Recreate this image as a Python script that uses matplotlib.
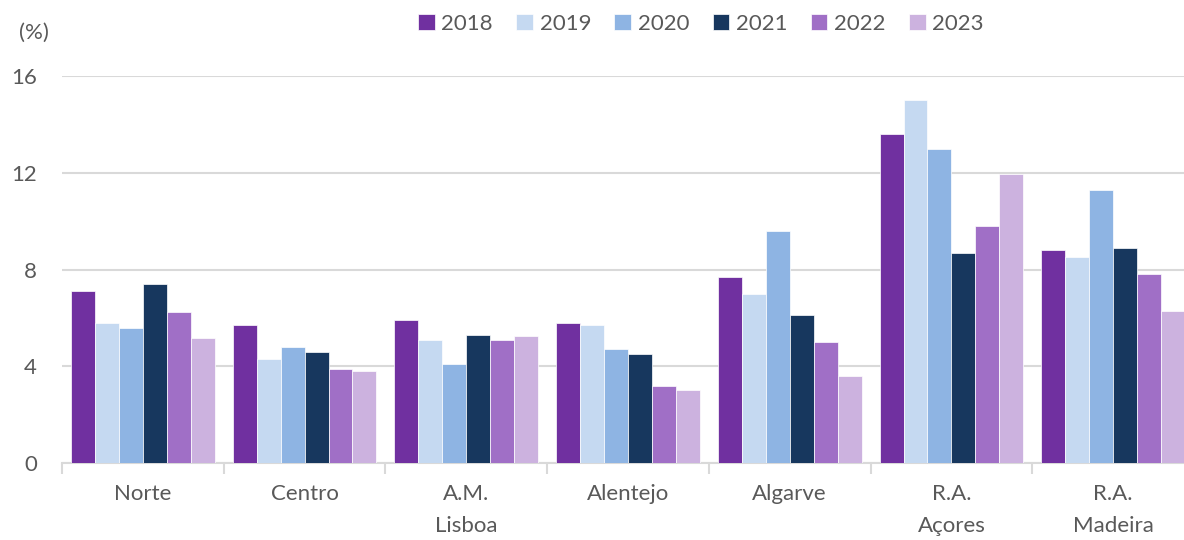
import numpy as np
import matplotlib.pyplot as plt

# Regions and values (%)
regions = ['Norte', 'Centro', 'A.M.\nLisboa', 'Alentejo', 'Algarve', 'R.A.\nAçores', 'R.A.\nMadeira']
years = ['2018', '2019', '2020', '2021', '2022', '2023']
v2018 = [7.1, 5.7, 5.9, 5.8, 7.7, 13.6, 8.8]
v2019 = [5.8, 4.3, 5.1, 5.7, 7.0, 15.0, 8.5]
v2020 = [5.6, 4.8, 4.1, 4.7, 9.6, 13.0, 11.3]
v2021 = [7.4, 4.6, 5.3, 4.5, 6.1, 8.7, 8.9]
v2022 = [6.25, 3.9, 5.1, 3.2, 5.0, 9.8, 7.8]
v2023 = [5.15, 3.8, 5.25, 3.0, 3.6, 11.95, 6.3]
series = [v2018, v2019, v2020, v2021, v2022, v2023]
colors = ['#7030A0', '#C5D9F1', '#8EB4E3', '#17375E', '#A06FC6', '#CCB2DF']

plt.rcParams['font.family'] = ['Lato', 'DejaVu Sans']
txt = '#595959'
fs = 16

fig = plt.figure(figsize=(11.84, 5.4), dpi=100)
W, H = 1184, 540
left, right, bottom, top = 62, 1194, 463, 76
ax = fig.add_axes([left / W, (H - bottom) / H, (right - left) / W, (bottom - top) / H])

x = np.arange(len(regions))
bw = 0.148
for k, (vals, c, yr) in enumerate(zip(series, colors, years)):
    off = (k - 2.5) * bw
    ax.bar(x + off, vals, width=bw, color=c, edgecolor='white', linewidth=0.5,
           label=yr, zorder=3)

ax.set_xlim(-0.5, len(regions) - 0.5)
ax.set_ylim(0, 16)
ax.set_yticks([0, 4, 8, 12, 16])
ax.yaxis.grid(True, color='#d9d9d9', linewidth=1.5, zorder=0)
ax.tick_params(axis='y', length=0, pad=18, labelsize=fs, labelcolor=txt)
for s in ['top', 'right', 'left']:
    ax.spines[s].set_visible(False)
ax.spines['bottom'].set_color('#d9d9d9')
ax.spines['bottom'].set_linewidth(1.5)

# category labels, tick marks at the boundaries
ax.set_xticks(x)
ax.set_xticklabels(regions, fontsize=fs, color=txt, linespacing=1.75, va='top')
ax.tick_params(axis='x', length=0, pad=15)
ax.set_xticks(np.arange(len(regions) + 1) - 0.5, minor=True)
ax.tick_params(axis='x', which='minor', length=8, width=1.5, color='#d9d9d9')

fig.text(19 / W, 1 - 33 / H, '(%)', fontsize=fs, color=txt, ha='left', va='center')

leg = fig.legend(loc='center left', bbox_to_anchor=(418 / W, 1 - 24 / H), ncol=6,
                 frameon=False, fontsize=fs, handlelength=0.75, handleheight=0.75,
                 handletextpad=0.3, columnspacing=1.05, borderaxespad=0, borderpad=0)
for t in leg.get_texts():
    t.set_color(txt)

fig.savefig('out.png', dpi=100)
